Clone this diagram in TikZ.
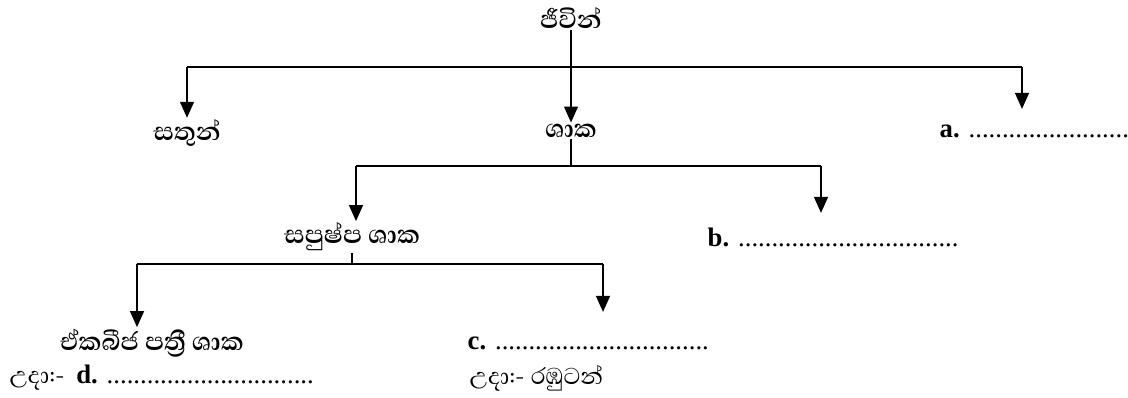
\documentclass[tikz,border=0pt]{standalone}
\usepackage{fontspec}
\setmainfont{Liberation Serif}
\newfontfamily\sinhalafont[Script=Sinhala]{Abhaya Libre}
\usetikzlibrary{arrows.meta,positioning}

\begin{document}
\begin{tikzpicture}[
  x=0.025cm, y=-0.025cm,
  lbl/.style={font=\fontsize{23}{26}\selectfont\sinhalafont\bfseries, inner sep=1pt},
  eg/.style={font=\fontsize{19}{22}\selectfont, anchor=west, inner sep=1pt},
  sinh/.style={font=\fontsize{21}{24}\selectfont\sinhalafont},
  line/.style={line width=1.7pt},
  arrow/.style={line, -{Triangle[length=4mm, width=3.4mm]}}
]
  \useasboundingbox (0,0) rectangle (1128,398);

  % Niveau 1
  \node[lbl] (jeevin)  at (571,18)  {ජීවින්};
  \node[lbl] (satun)   at (187,133) {සතුන්};
  \node[lbl] (shaka)   at (571,131) {ශාක};
  \node[eg]  (blanka)  at (938,131) {\textbf{a.} ........................};

  \coordinate (t1l) at (187,67);
  \coordinate (t1r) at (1022,67);
  \coordinate (a1)  at (1022,109);

  \draw[line] (t1l) -- (t1r);
  \draw[arrow] (jeevin) -- (shaka);
  \draw[arrow] (t1l) -- (t1l |- satun.north);
  \draw[arrow] (t1r) -- (a1);

  % Niveau 2
  \node[lbl] (sapushpa) at (352,237) {සපුෂ්ප ශාක};
  \node[eg]  (blankb)   at (706,237) {\textbf{b.} .................................};

  \coordinate (t2m) at (571,166);
  \coordinate (t2l) at (356,166);
  \coordinate (t2r) at (821,166);
  \coordinate (b1)  at (821,213);

  \draw[line] (shaka) -- (t2m);
  \draw[line] (t2l) -- (t2r);
  \draw[arrow] (t2l) -- (t2l |- sapushpa.north);
  \draw[arrow] (t2r) -- (b1);

  % Niveau 3
  \node[lbl] (ekabija) at (152,343) {ඒකබීජ පත්‍රී ශාක};
  \node[eg]  (blankc)  at (466,343) {\textbf{c.} ................................};
  \node[eg]  (udad)    at (8,378)   {{\sinhalafont\fontsize{21}{24}\selectfont උදා:-}\, \textbf{d.} ...............................};
  \node[eg, sinh] (udar) at (468,378) {උදා:- රඹුටන්};

  \coordinate (t3m) at (352,264);
  \coordinate (t3l) at (137,264);
  \coordinate (t3r) at (603,264);
  \coordinate (c1)  at (603,312);

  \draw[line] (sapushpa) -- (t3m);
  \draw[line] (t3l) -- (t3r);
  \draw[arrow] (t3l) -- (t3l |- ekabija.north);
  \draw[arrow] (t3r) -- (c1);
\end{tikzpicture}
\end{document}
